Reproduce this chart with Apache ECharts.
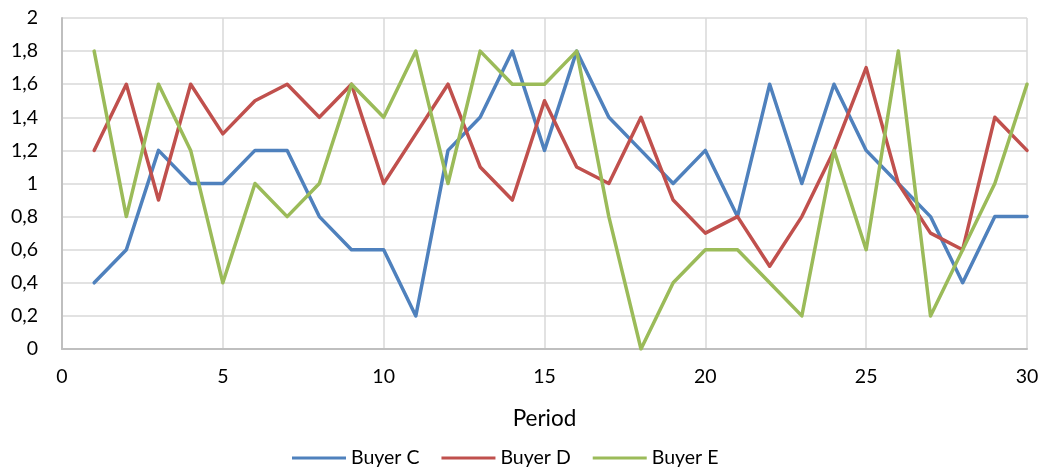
<!DOCTYPE html>
<html>
<head>
<meta charset="utf-8">
<script src="https://cdn.jsdelivr.net/npm/echarts@6/dist/echarts.min.js"></script>
<style>
  html, body { margin: 0; padding: 0; background: #fff; }
  #chart { width: 1045px; height: 473px; }
</style>
</head>
<body>
<div id="chart"></div>
<script>
// Periods 1..30 and the value each buyer had in that period
const periods = [1,2,3,4,5,6,7,8,9,10,11,12,13,14,15,16,17,18,19,20,21,22,23,24,25,26,27,28,29,30];
const buyerC = [0.4,0.6,1.2,1.0,1.0,1.2,1.2,0.8,0.6,0.6,0.2,1.2,1.4,1.8,1.2,1.8,1.4,1.2,1.0,1.2,0.8,1.6,1.0,1.6,1.2,1.0,0.8,0.4,0.8,0.8];
const buyerD = [1.2,1.6,0.9,1.6,1.3,1.5,1.6,1.4,1.6,1.0,1.3,1.6,1.1,0.9,1.5,1.1,1.0,1.4,0.9,0.7,0.8,0.5,0.8,1.2,1.7,1.0,0.7,0.6,1.4,1.2];
const buyerE = [1.8,0.8,1.6,1.2,0.4,1.0,0.8,1.0,1.6,1.4,1.8,1.0,1.8,1.6,1.6,1.8,0.8,0.0,0.4,0.6,0.6,0.4,0.2,1.2,0.6,1.8,0.2,0.6,1.0,1.6];
const seriesNames = ['Buyer C', 'Buyer D', 'Buyer E'];
const seriesColors = ['#4F81BD', '#C0504D', '#9BBB59'];

const FONT = 'Lato, "Open Sans", sans-serif';
const pairs = v => periods.map((p, i) => [p, v[i]]);

const chart = echarts.init(document.getElementById('chart'), null, { renderer: 'canvas' });
chart.setOption({
  animation: false,
  backgroundColor: '#ffffff',
  textStyle: { fontFamily: FONT },
  grid: { left: 62, right: 18, top: 18, bottom: 124, containLabel: false },
  legend: {
    bottom: 0,
    left: 287,
    itemWidth: 54,
    itemHeight: 3,
    itemGap: 22,
    icon: 'rect',
    textStyle: { fontFamily: FONT, fontSize: 19.5, color: '#000' },
    data: seriesNames
  },
  xAxis: {
    type: 'value',
    min: 0, max: 30, interval: 5,
    name: 'Period',
    nameLocation: 'middle',
    nameGap: 58,
    nameTextStyle: { fontFamily: FONT, fontSize: 22.5, color: '#000' },
    axisLine: { show: true, lineStyle: { color: '#BFBFBF', width: 2 } },
    axisTick: { show: false },
    axisLabel: { fontFamily: FONT, fontSize: 19.5, color: '#000', margin: 18 },
    splitLine: { show: true, lineStyle: { color: '#D9D9D9', width: 1.5 } }
  },
  yAxis: {
    type: 'value',
    min: 0, max: 2, interval: 0.2,
    axisLine: { show: true, lineStyle: { color: '#BFBFBF', width: 2 } },
    axisTick: { show: false },
    axisLabel: {
      fontFamily: FONT, fontSize: 19.5, color: '#000', margin: 24,
      formatter: v => (Math.round(v * 10) / 10).toString().replace('.', ',')
    },
    splitLine: { show: true, lineStyle: { color: '#D9D9D9', width: 1.5 } }
  },
  series: [buyerC, buyerD, buyerE].map((vals, i) => ({
    name: seriesNames[i],
    type: 'line',
    data: pairs(vals),
    symbol: 'none',
    color: seriesColors[i],
    lineStyle: { width: 3.5, color: seriesColors[i], join: 'round', cap: 'round' }
  }))
});
</script>
</body>
</html>
